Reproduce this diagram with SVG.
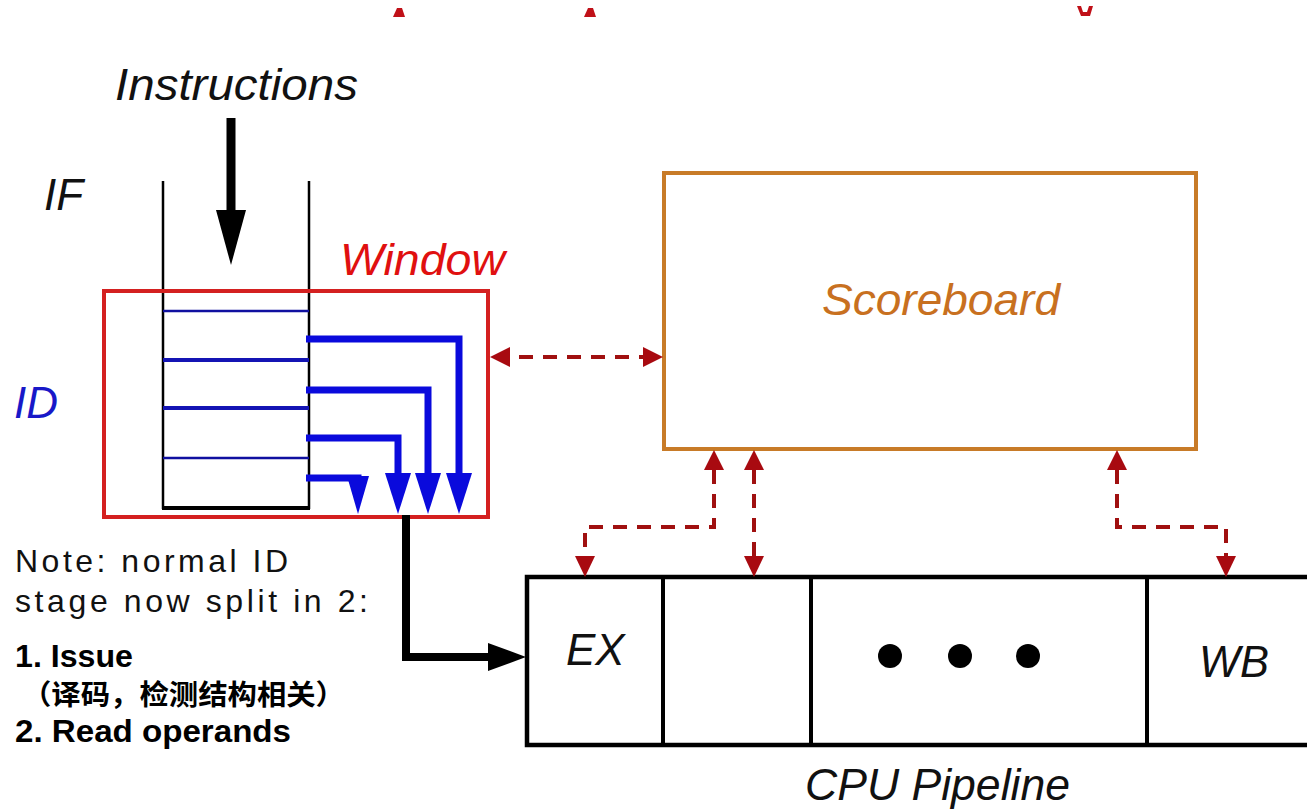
<svg xmlns="http://www.w3.org/2000/svg" width="1307" height="812" viewBox="0 0 1307 812">
<defs>
<style>
.it{font-family:"Liberation Sans",Arial,sans-serif;font-style:italic}
.note{font-family:"Liberation Sans",Arial,sans-serif;font-size:32px;fill:#111}
.bold{font-family:"Liberation Sans",Arial,sans-serif;font-weight:bold;font-size:31px;fill:#000}
.cjk{font-family:"Noto Sans CJK SC",sans-serif;font-weight:bold;font-size:28px;fill:#000}
.dash{fill:none;stroke:#a01010;stroke-width:4;stroke-dasharray:14 10}
.blue{fill:none;stroke:#0a0adc;stroke-width:7}
.bl{stroke:#1010a0}
.ah{fill:#a80a10}
</style>
</defs>
<rect width="1307" height="812" fill="#fff"/>
<g id="top-fragments" fill="#c01018">
<path d="M393,17 L397,8 L402,8 L405,17 z"/>
<path d="M584,17 L588,8 L593,8 L596,17 z"/>
<path d="M1077,6 L1081,6 L1083,12 L1087,12 L1089,6 L1093,6 L1090,16 L1081,16 z"/>
</g>
<g id="instructions">
<text class="it" x="115" y="100" font-size="45" fill="#111" textLength="243" lengthAdjust="spacingAndGlyphs">Instructions</text>
<line x1="231" y1="118" x2="231" y2="215" stroke="#000" stroke-width="9"/>
<path d="M216,210 L246,210 L231,265 z" fill="#000"/>
</g>
<g id="if-label"><text class="it" x="44" y="210" font-size="44" fill="#111">IF</text></g>
<g id="id-label"><text class="it" x="14" y="418" font-size="44" fill="#1818c8">ID</text></g>
<g id="queue">
<line x1="163" y1="181" x2="163" y2="509" stroke="#000" stroke-width="2.5"/>
<line x1="309" y1="181" x2="309" y2="509" stroke="#000" stroke-width="2.5"/>
<line x1="162" y1="508" x2="310" y2="508" stroke="#000" stroke-width="4"/>
<line class="bl" x1="163" y1="311" x2="309" y2="311" stroke-width="2.5"/>
<line x1="163" y1="360" x2="309" y2="360" stroke-width="4" stroke="#1414b4"/>
<line x1="163" y1="408" x2="309" y2="408" stroke-width="4" stroke="#1414b4"/>
<line class="bl" x1="163" y1="458" x2="309" y2="458" stroke-width="2.5"/>
</g>
<g id="window">
<rect x="104" y="291" width="384" height="226" fill="none" stroke="#d42020" stroke-width="4"/>
<text class="it" x="340" y="275" font-size="45" fill="#e01010" textLength="165" lengthAdjust="spacingAndGlyphs">Window</text>
</g>
<g id="scoreboard">
<rect x="664" y="173" width="532" height="276" fill="none" stroke="#c87b28" stroke-width="4"/>
<text class="it" x="822" y="315" font-size="45" fill="#c87020" textLength="238" lengthAdjust="spacingAndGlyphs">Scoreboard</text>
</g>
<g id="pipeline">
<rect x="527" y="577" width="785" height="168" fill="none" stroke="#000" stroke-width="4.5"/>
<line x1="663" y1="577" x2="663" y2="745" stroke="#000" stroke-width="4"/>
<line x1="811" y1="577" x2="811" y2="745" stroke="#000" stroke-width="4"/>
<line x1="1147" y1="577" x2="1147" y2="745" stroke="#000" stroke-width="4"/>
<text class="it" x="566" y="665" font-size="44" fill="#111">EX</text>
<text class="it" x="1199" y="677" font-size="44" fill="#111" textLength="70" lengthAdjust="spacingAndGlyphs">WB</text>
<circle cx="890" cy="656" r="12" fill="#000"/>
<circle cx="960" cy="656" r="12" fill="#000"/>
<circle cx="1028" cy="656" r="12" fill="#000"/>
<text class="it" x="805" y="800" font-size="44" fill="#111" textLength="265" lengthAdjust="spacingAndGlyphs">CPU Pipeline</text>
</g>
<g id="note">
<text class="note" x="15" y="572" textLength="273" lengthAdjust="spacing">Note: normal ID</text>
<text class="note" x="15" y="612" textLength="353" lengthAdjust="spacing">stage now split in 2:</text>
<text class="bold" x="15" y="667" textLength="118" lengthAdjust="spacingAndGlyphs">1. Issue</text>
<text class="cjk" x="22" y="705" textLength="323" lengthAdjust="spacingAndGlyphs">（译码，检测结构相关）</text>
<text class="bold" x="15" y="742" textLength="276" lengthAdjust="spacingAndGlyphs">2. Read operands</text>
</g>
<g id="connectors">
<path class="blue" d="M306,339 H459 V480"/>
<path class="blue" d="M306,390 H428 V480"/>
<path class="blue" d="M306,438 H398 V480"/>
<path class="blue" d="M306,478 H358 V482"/>
<g fill="#0a0adc">
<path d="M446,473 L472,473 L459,514 z"/>
<path d="M415,473 L441,473 L428,514 z"/>
<path d="M385,473 L411,473 L398,514 z"/>
<path d="M347,476 L369,476 L358,514 z"/>
</g>
<path d="M406,515 V657 H495" fill="none" stroke="#000" stroke-width="8"/>
<path d="M488,643 L526,657 L488,671 z" fill="#000"/>
<line class="dash" x1="495" y1="357" x2="658" y2="357"/>
<path class="ah" d="M490,357 L510,347 L510,367 z"/>
<path class="ah" d="M663,357 L643,347 L643,367 z"/>
<path class="dash" d="M714,470 V527 H585 V560"/>
<path class="ah" d="M714,450 L704,470 L724,470 z"/>
<path class="ah" d="M585,577 L575,556 L595,556 z"/>
<path class="dash" d="M754,470 V560"/>
<path class="ah" d="M754,450 L744,470 L764,470 z"/>
<path class="ah" d="M754,577 L744,556 L764,556 z"/>
<path class="dash" d="M1117,470 V527 H1226 V560"/>
<path class="ah" d="M1117,450 L1107,470 L1127,470 z"/>
<path class="ah" d="M1226,577 L1216,556 L1236,556 z"/>
</g>
</svg>
